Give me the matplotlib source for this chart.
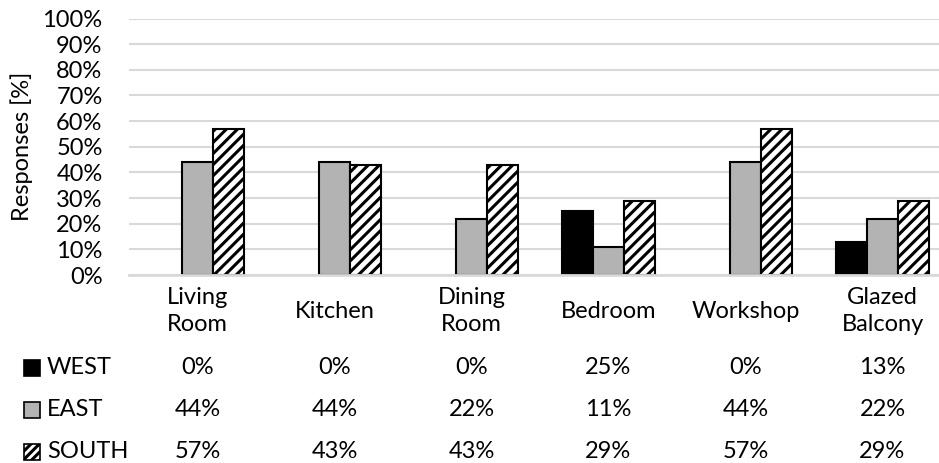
import matplotlib
matplotlib.use("Agg")
import matplotlib.pyplot as plt
import numpy as np
from matplotlib.patches import Rectangle
from matplotlib.transforms import blended_transform_factory

plt.rcParams['font.family'] = ['Lato', 'DejaVu Sans']
plt.rcParams['hatch.linewidth'] = 2.2
plt.rcParams['hatch.color'] = 'black'

categories = ["Living\nRoom", "Kitchen", "Dining\nRoom", "Bedroom", "Workshop", "Glazed\nBalcony"]
series_names = ["WEST", "EAST", "SOUTH"]
west = [0, 0, 0, 25, 0, 13]
east = [44, 44, 22, 11, 44, 22]
south = [57, 43, 43, 29, 57, 29]
yticks = [0, 10, 20, 30, 40, 50, 60, 70, 80, 90, 100]

FS = 17
W, H = 939, 463
fig = plt.figure(figsize=(W / 100, H / 100), dpi=100)
ax_left, ax_right = 129, 951
ax_bottom, ax_top = 275, 18.5
ax = fig.add_axes([ax_left / W, (H - ax_bottom) / H, (ax_right - ax_left) / W, (ax_bottom - ax_top) / H])

x = np.arange(len(categories))
bw = 0.226
styles = [dict(facecolor='black', hatch=None),
          dict(facecolor='#b3b3b3', hatch=None),
          dict(facecolor='white', hatch='///')]
data = [west, east, south]
for i, (vals, st) in enumerate(zip(data, styles)):
    for xi, v in zip(x, vals):
        if v == 0:
            continue
        ax.bar(xi + (i - 1) * bw, v, width=bw, facecolor=st['facecolor'], hatch=st['hatch'],
               edgecolor='black', linewidth=1.5, zorder=3)

ax.set_xlim(-0.5, len(categories) - 0.5)
ax.set_ylim(0, 100)
ax.set_yticks(yticks)
ax.set_yticklabels([f"{t}%" for t in yticks], fontsize=FS)
ax.tick_params(axis='y', length=0, pad=19)
ax.set_xticks([])
for s in ['top', 'right', 'left']:
    ax.spines[s].set_visible(False)
ax.spines['bottom'].set_color('#d9d9d9')
ax.spines['bottom'].set_linewidth(2.0)
ax.spines['bottom'].set_zorder(4)
ax.yaxis.grid(True, color='#d9d9d9', linewidth=1.5, zorder=0)
ax.set_axisbelow(True)
ax.set_ylabel("Responses [%]", fontsize=FS, va='center')
ax.yaxis.set_label_coords((22 - ax_left) / (ax_right - ax_left), (275 - 146) / (275 - 18.5))

trans = blended_transform_factory(ax.transData, fig.transFigure)
for xi, c in zip(x, categories):
    ax.text(xi, (H - 311) / H, c, transform=trans, ha='center', va='center', fontsize=FS,
            linespacing=1.35)

row_y = [368, 410, 452]
for vals, name, st, ry in zip(data, series_names, styles, row_y):
    yf = (H - ry) / H
    for xi, v in zip(x, vals):
        ax.text(xi, yf, f"{v}%", transform=trans, ha='center', va='center', fontsize=FS)
    sq = Rectangle((24 / W, (H - ry - 8) / H), 16 / W, 16 / H, transform=fig.transFigure,
                   facecolor=st['facecolor'], hatch=('////' if st['hatch'] else None),
                   edgecolor='black', linewidth=1.2)
    fig.patches.append(sq)
    fig.text(47 / W, yf, name, ha='left', va='center', fontsize=FS)

fig.savefig("out.png", dpi=100)
